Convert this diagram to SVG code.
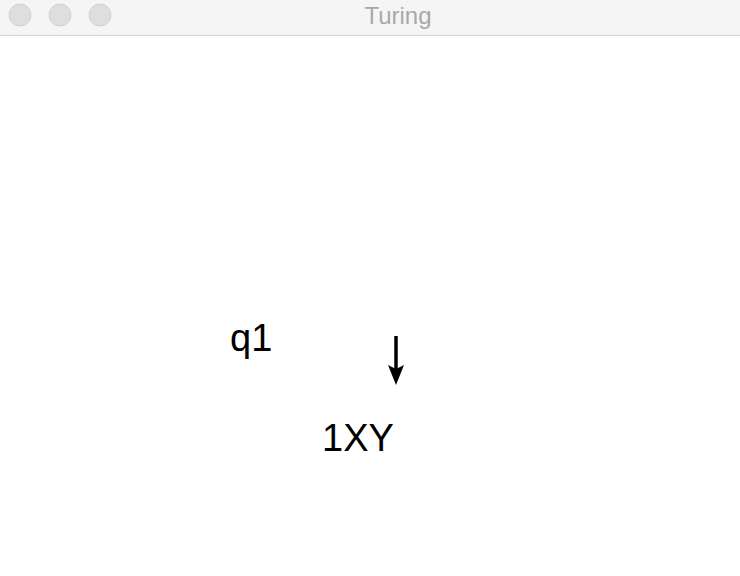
<svg xmlns="http://www.w3.org/2000/svg" width="740" height="576" viewBox="0 0 740 576">
<style>
.lbl{font-family:"Liberation Sans",Arial,sans-serif;font-size:38px;fill:#000}
.title{font-family:"Liberation Sans",Arial,sans-serif;font-size:24px;fill:#a8a8a8}
.btn{fill:#dedede;stroke:#cfcfcf;stroke-width:1}
</style>
<rect width="740" height="576" fill="#fff"/>
<g id="titlebar">
<rect x="0" y="0" width="740" height="35" fill="#f5f5f5"/>
<line x1="0" y1="35.5" x2="740" y2="35.5" stroke="#d0d0d0" stroke-width="1"/>
<circle class="btn" cx="20" cy="15" r="11"/>
<circle class="btn" cx="60" cy="15" r="11"/>
<circle class="btn" cx="100" cy="15" r="11"/>
<text class="title" x="398" y="24" text-anchor="middle">Turing</text>
</g>
<g id="state">
<text class="lbl" x="230" y="351">q1</text>
</g>
<g id="tape">
<text class="lbl" x="322" y="451">1XY</text>
</g>
<g id="connectors">
<line x1="396" y1="336" x2="396" y2="370" stroke="#000" stroke-width="3.5"/>
<path d="M388,365 L396,369 L404,365 L396,385 Z" fill="#000"/>
</g>
</svg>
